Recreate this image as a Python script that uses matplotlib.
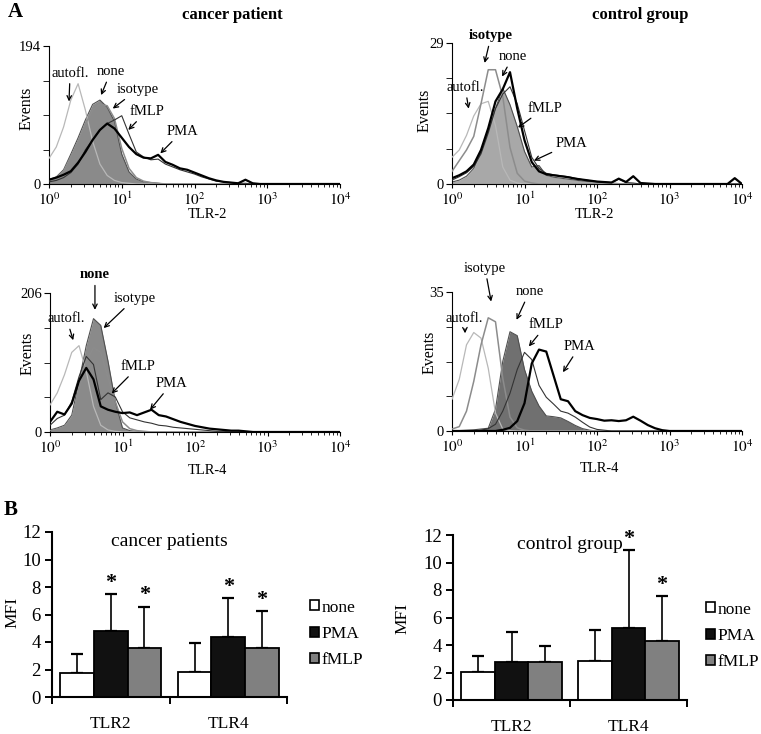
import numpy as np
import matplotlib.pyplot as plt
from matplotlib.patches import Patch

plt.rcParams['font.family'] = 'Liberation Serif'
plt.rcParams['mathtext.fontset'] = 'stix'

W, H = 761, 734

# ---- A: flow cytometry histograms (log10 channel, events) ----
channels = np.linspace(0, 4, 41)


def pad(vals):
    return np.array(vals + [0] * (len(channels) - len(vals)), dtype=float)


# cancer patient, TLR-2
tl_autofl = pad([36, 52, 80, 118, 141, 104, 60, 28, 12, 5, 2, 1])
tl_none = pad([6, 10, 20, 42, 65, 90, 112, 118, 108, 88, 42, 17, 7, 3, 2, 1])
tl_isotype = pad([5, 9, 18, 38, 60, 84, 104, 112, 110, 92, 50, 22, 9, 4, 2, 1])
tl_fmlp = pad([3, 5, 9, 16, 28, 48, 62, 76, 85, 90, 96, 70, 45, 38, 34, 35, 28, 24, 20,
               17, 14, 10, 7, 4, 3, 2, 1, 1])
tl_pma = pad([6, 9, 13, 18, 30, 45, 62, 76, 85, 78, 65, 52, 42, 37, 36, 41, 31, 27, 22,
              20, 16, 12, 8, 5, 3, 2, 1, 6, 1])

# control group, TLR-2
tr_autofl = pad([5.5, 7, 10, 14, 16.5, 17, 12, 3.5, 0.8, 0.2])
tr_isotype = pad([2.6, 4.8, 7, 9.8, 16.5, 23.5, 23.5, 18, 7.5, 2.2, 0.6, 0.2])
tr_none = pad([0.4, 0.8, 1.6, 3.2, 6.5, 10.8, 15.5, 19.7, 16.3, 11.8, 6.7, 3.5, 3.8, 1.8,
               1.4, 1.2, 1.0, 0.8, 0.6, 0.5, 0.4, 0.3, 0.2, 0.1])
tr_fmlp = pad([0.8, 1.5, 2.3, 3.6, 6.2, 10.5, 15.5, 18.5, 20, 16.5, 11, 5.5, 3.2, 2.2, 1.9,
               1.7, 1.5, 1.2, 0.9, 0.7, 0.5, 0.4, 0.3, 1.0, 0.3, 0.2])
tr_pma = pad([1.2, 1.8, 2.6, 4, 7, 11.5, 17, 19.5, 23, 15.5, 9, 4.5, 2.6, 2, 1.8, 1.6, 1.4,
              1.1, 0.9, 0.7, 0.5, 0.4, 0.3, 1.1, 0.4, 1.6, 0.2, 0.1, 0, 0, 0, 0, 0, 0, 0,
              0, 0, 0, 0, 1.2])

# cancer patient, TLR-4
bl_autofl = pad([40, 58, 85, 118, 128, 90, 38, 10, 3, 1])
bl_none = pad([3, 6, 10, 25, 75, 128, 168, 158, 105, 45, 6, 2, 1])
bl_isotype = pad([2, 4, 8, 20, 60, 105, 125, 118, 80, 45, 15, 5, 2, 1])
bl_fmlp = pad([10, 20, 25, 45, 82, 112, 100, 48, 58, 52, 30, 21, 18, 15, 13, 10, 9, 7, 6,
               5, 4, 3, 2, 1, 1])
bl_pma = pad([15, 30, 26, 42, 76, 95, 78, 38, 33, 30, 28, 29, 25, 29, 33, 25, 23, 19, 15,
              12, 9, 7, 5, 4, 3, 2, 2, 1])

# control group, TLR-4
br_autofl = pad([8, 13, 21.7, 24.8, 23.4, 15.8, 4.5, 0.5, 0.1])
br_isotype = pad([0.5, 1.1, 5, 12.5, 21.7, 28.5, 27.5, 13.3, 3.5, 0.8, 0.2])
br_none = pad([0.1, 0.1, 0.2, 0.3, 0.5, 0.7, 5.5, 17.5, 25, 24, 15.5, 10, 6.3, 3.8, 3.6,
               3.3, 2.4, 1.4, 0.6, 0.2])
br_fmlp = pad([0, 0, 0, 0, 0.2, 0.6, 1.7, 5, 9.5, 15.5, 19.8, 18, 11.5, 8.5, 6.8, 5, 4.5,
               3.5, 2.2, 1, 0.4, 0.2])
br_pma = pad([0, 0, 0, 0, 0, 0, 0, 0.3, 0.8, 2.5, 7, 17, 20.5, 20, 14, 8, 7.5, 5, 4, 3.3,
              3, 2.6, 2.7, 2.5, 2.7, 3.6, 2.6, 1.5, 0.7, 0.2])

# ---- B: mean fluorescence intensity ----
tlr = ['TLR2', 'TLR4']
treatments = ['none', 'PMA', 'fMLP']
cancer_mean = [[1.75, 1.85], [4.79, 4.40], [3.6, 3.6]]
cancer_sd = [[1.39, 2.07], [2.68, 2.78], [2.97, 2.63]]
cancer_sig = [[0, 0], [1, 1], [1, 1]]
control_mean = [[2.06, 2.86], [2.79, 5.21], [2.74, 4.29]]
control_sd = [[1.16, 2.23], [2.16, 5.69], [1.16, 3.25]]
control_sig = [[0, 0], [0, 1], [0, 1]]
bar_colors = ['white', '#111111', '#808080']

fig = plt.figure(figsize=(W / 100, H / 100), dpi=100)


def px_axes(left, top, right, bottom):
    return fig.add_axes([left / W, 1 - bottom / H, (right - left) / W, (bottom - top) / H])


def histogram(ax, top, none, autofl, isotype, fmlp, pma, fill, notes):
    x = 10 ** channels
    ax.fill_between(x, 0, none, color=fill, lw=0, zorder=1)
    ax.plot(x, none, color='#505050', lw=0.8, zorder=2)
    ax.plot(x, autofl, color='#b8b8b8', lw=0.9, zorder=3)
    ax.plot(x, isotype, color='#8c8c8c', lw=1.1, zorder=3)
    ax.plot(x, fmlp, color='#333333', lw=0.8, zorder=4)
    ax.plot(x, pma, color='black', lw=1.6, zorder=5)
    ax.set_xscale('log')
    ax.set_xlim(1, 1e4)
    ax.set_ylim(0, top)
    for s in ['top', 'right']:
        ax.spines[s].set_visible(False)
    ax.set_xticks([1, 10, 100, 1000, 10000])
    ax.set_xticklabels(['$10^{%d}$' % i for i in range(5)], fontsize=11)
    ax.set_yticks([0, top])
    ax.set_yticklabels(['0', str(top)], fontsize=10.5)
    ax.set_yticks([top / 4, top / 2, 3 * top / 4], minor=True)
    ax.tick_params(axis='y', which='both', direction='out', length=4, pad=2)
    ax.tick_params(axis='x', which='major', direction='out', length=3, pad=2)
    ax.tick_params(axis='x', which='minor', direction='out', length=2)
    for label, (lx, ly), (tx, ty), bold in notes:
        ax.annotate(label, xy=(10 ** tx, ty), xytext=(10 ** lx, ly), ha='center', va='center',
                    fontsize=10.5, fontweight='bold' if bold else 'normal',
                    arrowprops=dict(arrowstyle='->', color='black', lw=0.9, shrinkA=1,
                                    shrinkB=0, mutation_scale=8),
                    annotation_clip=False, zorder=6)


ax = px_axes(49, 46, 340, 184)
histogram(ax, 194, tl_none, tl_autofl, tl_isotype, tl_fmlp, tl_pma, '#8a8a8a', [
    ('autofl.', (0.29, 156), (0.275, 116), False),
    ('none', (0.85, 158), (0.716, 125), False),
    ('isotype', (1.22, 133), (0.876, 106), False),
    ('fMLP', (1.34, 102), (1.09, 76), False),
    ('PMA', (1.83, 74), (1.53, 43), False)])

ax = px_axes(452, 43, 742, 184)
histogram(ax, 29, tr_none, tr_autofl, tr_isotype, tr_fmlp, tr_pma, '#a8a8a8', [
    ('isotype', (0.54, 30.5), (0.45, 24.9), True),
    ('none', (0.84, 26.2), (0.69, 22.1), False),
    ('autofl.', (0.18, 19.9), (0.23, 15.5), False),
    ('fMLP', (1.28, 15.6), (0.91, 11.6), False),
    ('PMA', (1.65, 8.4), (1.13, 4.8), False)])

ax = px_axes(50, 293, 340, 432)
histogram(ax, 206, bl_none, bl_autofl, bl_isotype, bl_fmlp, bl_pma, '#8a8a8a', [
    ('none', (0.62, 233), (0.62, 181), True),
    ('isotype', (1.17, 198), (0.74, 154), False),
    ('autofl.', (0.23, 168), (0.32, 136), False),
    ('fMLP', (1.22, 97), (0.85, 57), False),
    ('PMA', (1.68, 72), (1.38, 33), False)])

ax = px_axes(452, 292, 742, 431)
histogram(ax, 35, br_none, br_autofl, br_isotype, br_fmlp, br_pma, '#707070', [
    ('isotype', (0.455, 41), (0.54, 32.6), False),
    ('none', (1.07, 35.1), (0.89, 28), False),
    ('autofl.', (0.175, 28.4), (0.18, 24.6), False),
    ('fMLP', (1.30, 26.7), (1.06, 21.3), False),
    ('PMA', (1.76, 21.3), (1.53, 14.8), False)])


def ftext(x, y, s, **kw):
    fig.text(x / W, 1 - y / H, s, ha='center', va='center', **kw)


ftext(15, 12, 'A', fontsize=15, fontweight='bold')
ftext(232, 15, 'cancer patient', fontsize=12, fontweight='bold')
ftext(640, 15, 'control group', fontsize=12, fontweight='bold')
for x, y, s in [(207, 214, 'TLR-2'), (594, 214, 'TLR-2'), (207, 470, 'TLR-4'), (599, 468, 'TLR-4')]:
    ftext(x, y, s, fontsize=10.5)
for x, y in [(27, 108), (425, 110), (28, 353), (430, 352)]:
    ftext(x, y, 'Events', fontsize=11.5, rotation=90)


def bar_panel(ax, means, sds, sig, title):
    pos = np.arange(len(tlr)) + 0.5
    w = 0.287
    for i, (m, sd, c) in enumerate(zip(means, sds, bar_colors)):
        xs = pos + (i - 1) * w
        ax.bar(xs, m, w, color=c, edgecolor='black', lw=1.3, zorder=2)
        ax.errorbar(xs, m, yerr=[np.zeros(len(m)), sd], fmt='none', ecolor='black',
                    elinewidth=1.2, capsize=4, capthick=1.6, zorder=1)
        for x, mm, s, flag in zip(xs, m, sd, sig[i]):
            if flag:
                ax.text(x, mm + s + 0.45, '*', ha='center', va='baseline', fontsize=16,
                        fontweight='bold')
    ax.set_xlim(0, len(tlr))
    ax.set_ylim(0, 12)
    for s in ['top', 'right']:
        ax.spines[s].set_visible(False)
    for s in ['left', 'bottom']:
        ax.spines[s].set_linewidth(1.5)
    ax.set_yticks(range(0, 13, 2))
    ax.tick_params(axis='y', direction='out', length=5, width=1.4, labelsize=13.5, pad=3)
    ax.set_xticks([0, 1, 2])
    ax.set_xticklabels([])
    ax.tick_params(axis='x', which='major', direction='out', length=5, width=1.4)
    ax.set_xticks(pos, minor=True)
    ax.set_xticklabels(tlr, minor=True, fontsize=12.5)
    ax.tick_params(axis='x', which='minor', length=0, pad=14)
    ax.text(1.0, 11.3, title, ha='center', va='center', fontsize=14)


ax = px_axes(52, 532, 287, 697)
bar_panel(ax, cancer_mean, cancer_sd, cancer_sig, 'cancer patients')
ax = px_axes(453, 535, 687, 700)
bar_panel(ax, control_mean, control_sd, control_sig, 'control group')

ftext(11, 510, 'B', fontsize=15, fontweight='bold')
ftext(12, 612, 'MFI', fontsize=12.5, rotation=90)
ftext(402, 618, 'MFI', fontsize=12.5, rotation=90)

handles = [Patch(facecolor=c, edgecolor='black', lw=1.2) for c in bar_colors]
for x, y in [(310, 634), (706, 636)]:
    fig.legend(handles, treatments, loc='center left', bbox_to_anchor=(x / W, 1 - y / H),
               frameon=False, fontsize=12.5, handlelength=0.5, handleheight=0.5,
               handletextpad=0.15, labelspacing=0.6, borderpad=0, borderaxespad=0)

fig.savefig('out.png', dpi=100)
